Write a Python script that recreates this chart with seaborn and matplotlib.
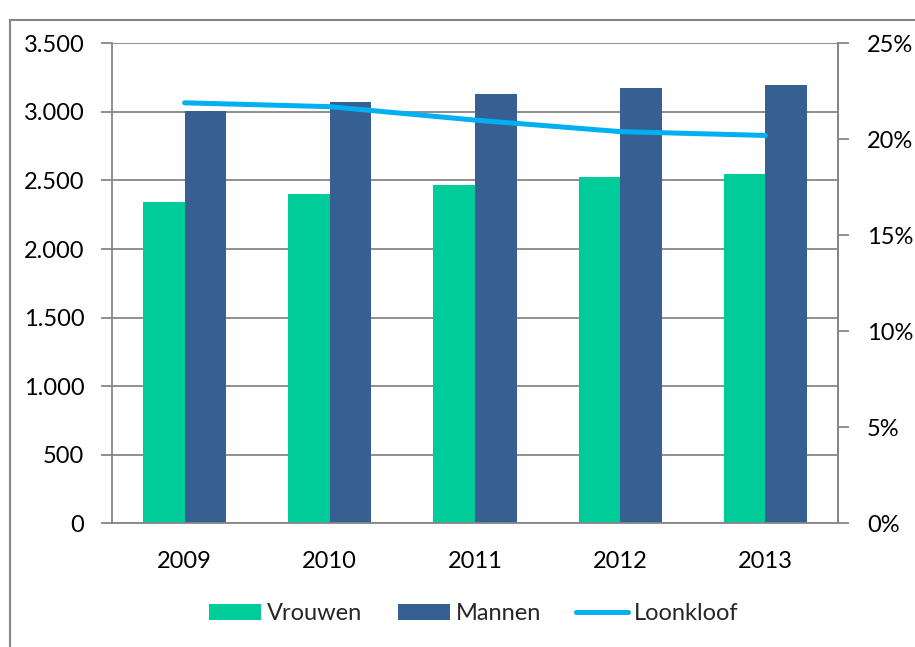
import matplotlib
matplotlib.use("Agg")
import matplotlib.pyplot as plt
import matplotlib.ticker as mticker
from matplotlib.patches import Rectangle
import seaborn as sns
import pandas as pd
import numpy as np

years = ["2009", "2010", "2011", "2012", "2013"]
vrouwen = [2340, 2403, 2469, 2525, 2549]
mannen = [3003, 3072, 3133, 3172, 3198]
loonkloof = [21.9, 21.7, 21.0, 20.4, 20.2]
left_ticks = [0, 500, 1000, 1500, 2000, 2500, 3000, 3500]
right_ticks = [0, 5, 10, 15, 20, 25]

GREEN = "#00CC99"
BLUE = "#366092"
CYAN = "#00B0F0"
GRID = "#868686"
FS = 17

sns.set_theme(style="white")
plt.rcParams['font.family'] = ['Lato', 'DejaVu Sans']

df = pd.DataFrame({
    "Jaar": years * 2,
    "Waarde": vrouwen + mannen,
    "Groep": ["Vrouwen"] * len(years) + ["Mannen"] * len(years),
})

fig = plt.figure(figsize=(9.15, 6.47), dpi=100)
ax = fig.add_axes([112/915, 1 - 523.3/647, (838-112)/915, (523.3-43.3)/647])

sns.barplot(data=df, x="Jaar", y="Waarde", hue="Groep", order=years,
            hue_order=["Vrouwen", "Mannen"], palette=[GREEN, BLUE],
            width=0.572, gap=0, saturation=1, edgecolor="none", ax=ax, legend=False)

ax.set_ylim(0, 3500)
ax.set_xlim(-0.5, 4.5)
ax.set_yticks(left_ticks)
ax.yaxis.set_major_formatter(mticker.FuncFormatter(lambda v, p: f"{int(v):,}".replace(",", ".")))
ax.yaxis.grid(True, color=GRID, linewidth=1.3)
ax.set_axisbelow(True)
ax.set_xlabel("")
ax.set_ylabel("")
ax.set_xticks(range(len(years)))
ax.set_xticklabels(years)
ax.set_xticks(np.arange(-0.5, len(years), 1.0), minor=True)
ax.tick_params(axis="x", which="major", length=0, pad=20, labelsize=FS, colors="black")
ax.tick_params(axis="x", which="minor", length=8, width=1.3, color=GRID, direction="out")
ax.tick_params(axis="y", length=8, width=1.3, color=GRID, direction="out", pad=12, labelsize=FS, labelcolor="black")
for s in ["left", "bottom", "right"]:
    ax.spines[s].set_visible(True)
    ax.spines[s].set_color(GRID)
    ax.spines[s].set_linewidth(1.3)
ax.spines["top"].set_visible(False)

ax2 = ax.twinx()
sns.lineplot(x=np.arange(len(years)), y=loonkloof, color=CYAN, linewidth=3.6,
             ax=ax2, solid_capstyle="round", legend=False)
ax2.set_ylim(0, 25)
ax2.set_yticks(right_ticks)
ax2.yaxis.set_major_formatter(mticker.FuncFormatter(lambda v, p: f"{int(v)}%"))
ax2.tick_params(axis="y", length=8, width=1.3, color=GRID, direction="out", pad=13, labelsize=FS, labelcolor="black")
ax2.grid(False)
for s in ["left", "bottom", "top"]:
    ax2.spines[s].set_visible(False)
ax2.spines["right"].set_color(GRID)
ax2.spines["right"].set_linewidth(1.3)
ax2.set_xlim(-0.5, 4.5)

handles = [
    Rectangle((0, 0), 1, 1, facecolor=GREEN, edgecolor="none"),
    Rectangle((0, 0), 1, 1, facecolor=BLUE, edgecolor="none"),
    plt.Line2D([0], [0], color=CYAN, linewidth=3.6, solid_capstyle="round"),
]
fig.legend(handles, ["Vrouwen", "Mannen", "Loonkloof"], loc="center",
           bbox_to_anchor=(474/915, 1 - 614/647), ncol=3, frameon=False,
           fontsize=FS, handlelength=2.2, handleheight=0.65, handletextpad=0.25,
           columnspacing=1.5)

fig.patches.append(Rectangle((10/915, -0.1), 1.2, 1 - 20/647 + 0.1,
                             transform=fig.transFigure, fill=False,
                             edgecolor=GRID, linewidth=1.5, zorder=-1))

fig.savefig("out.png", dpi=100)
